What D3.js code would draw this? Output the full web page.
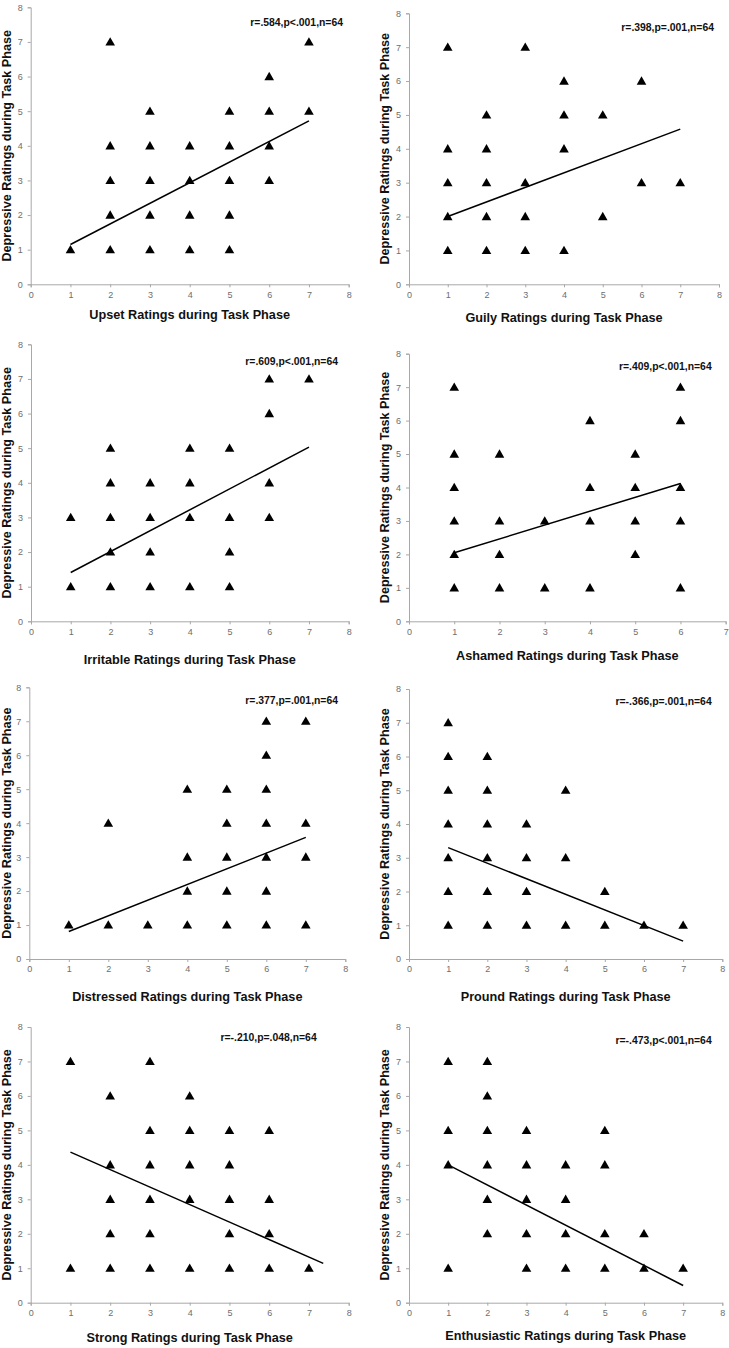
<!DOCTYPE html>
<html>
<head>
<meta charset="utf-8">
<script src="https://cdn.jsdelivr.net/npm/d3@7"></script>
<style>
  html, body { margin: 0; padding: 0; background: #fff; }
  svg { display: block; }
</style>
</head>
<body>
<svg id="chart" width="729" height="1348"></svg>
<script>
// ---------- DATA ----------
const xTitles = [
  "Upset Ratings during Task Phase",
  "Guily Ratings during Task Phase",
  "Irritable Ratings during Task Phase",
  "Ashamed Ratings during Task Phase",
  "Distressed Ratings during Task Phase",
  "Pround Ratings during Task Phase",
  "Strong Ratings during Task Phase",
  "Enthusiastic Ratings during Task Phase"
];
const yTitle = "Depressive Ratings during Task Phase";
const statLabels = [
  "r=.584,p<.001,n=64",
  "r=.398,p=.001,n=64",
  "r=.609,p<.001,n=64",
  "r=.409,p<.001,n=64",
  "r=.377,p=.001,n=64",
  "r=-.366,p=.001,n=64",
  "r=-.210,p=.048,n=64",
  "r=-.473,p<.001,n=64"
];
const xMaxValues = [8, 8, 8, 7, 8, 8, 8, 8];
const yTickValues = [0, 1, 2, 3, 4, 5, 6, 7, 8];

const upsetX = [1, 2,2,2,2,2, 3,3,3,3,3, 4,4,4,4, 5,5,5,5,5, 6,6,6,6, 7,7];
const upsetY = [1, 7,4,3,2,1, 5,4,3,2,1, 4,3,2,1, 5,4,3,2,1, 6,5,4,3, 7,5];

const guilyX = [1,1,1,1,1, 2,2,2,2,2, 3,3,3,3, 4,4,4,4, 5,5, 6,6, 7];
const guilyY = [7,4,3,2,1, 5,4,3,2,1, 7,3,2,1, 6,5,4,1, 5,2, 6,3, 3];

const irritableX = [1,1, 2,2,2,2,2, 3,3,3,3, 4,4,4,4, 5,5,5,5, 6,6,6,6, 7];
const irritableY = [3,1, 5,4,3,2,1, 4,3,2,1, 5,4,3,1, 5,3,2,1, 7,6,4,3, 7];

const ashamedX = [1,1,1,1,1,1, 2,2,2,2, 3,3, 4,4,4,4, 5,5,5,5, 6,6,6,6,6];
const ashamedY = [7,5,4,3,2,1, 5,3,2,1, 3,1, 6,4,3,1, 5,4,3,2, 7,6,4,3,1];

const distressedX = [1, 2,2, 3, 4,4,4,4, 5,5,5,5,5, 6,6,6,6,6,6,6, 7,7,7,7];
const distressedY = [1, 4,1, 1, 5,3,2,1, 5,4,3,2,1, 7,6,5,4,3,2,1, 7,4,3,1];

const proundX = [1,1,1,1,1,1,1, 2,2,2,2,2,2, 3,3,3,3, 4,4,4, 5,5, 6, 7];
const proundY = [7,6,5,4,3,2,1, 6,5,4,3,2,1, 4,3,2,1, 5,3,1, 2,1, 1, 1];

const strongX = [1,1, 2,2,2,2,2, 3,3,3,3,3,3, 4,4,4,4,4, 5,5,5,5,5, 6,6,6,6, 7];
const strongY = [7,1, 6,4,3,2,1, 7,5,4,3,2,1, 6,5,4,3,1, 5,4,3,2,1, 5,3,2,1, 1];

const enthusiasticX = [1,1,1,1, 2,2,2,2,2,2, 3,3,3,3,3, 4,4,4,4, 5,5,5,5, 6,6, 7];
const enthusiasticY = [7,5,4,1, 7,6,5,4,3,2, 5,4,3,2,1, 4,3,2,1, 5,4,2,1, 2,1, 1];

// regression line end points (x1, y1) -> (x2, y2)
const fitX1 = [1, 1, 1, 1, 1, 1, 1, 1];
const fitY1 = [1.15, 2.0, 1.41, 2.05, 0.81, 3.30, 4.37, 4.00];
const fitX2 = [7, 7, 7, 6, 7, 7, 7.36, 7];
const fitY2 = [4.72, 4.58, 5.03, 4.12, 3.58, 0.53, 1.14, 0.50];

const seriesX = [upsetX, guilyX, irritableX, ashamedX, distressedX, proundX, strongX, enthusiasticX];
const seriesY = [upsetY, guilyY, irritableY, ashamedY, distressedY, proundY, strongY, enthusiasticY];

// ---------- LAYOUT ----------
const layout = [
  {left: 30.7, right: 348.7, top: 7.3,   bottom: 284.3,  titleY: 315,    statX: 343,   statY: 22},
  {left: 409,  right: 719,   top: 13.3,  bottom: 284.3,  titleY: 318.3,  statX: 714,   statY: 27},
  {left: 31,   right: 348.7, top: 344.3, bottom: 621.3,  titleY: 659.7,  statX: 338,   statY: 361},
  {left: 409,  right: 725.7, top: 353.7, bottom: 621.3,  titleY: 656.3,  statX: 711.7, statY: 366},
  {left: 29.3, right: 345.3, top: 687.3, bottom: 959,    titleY: 996.7,  statX: 338,   statY: 700.7},
  {left: 409,  right: 722.3, top: 689,   bottom: 959,    titleY: 997.3,  statX: 711.7, statY: 701},
  {left: 30.7, right: 348.7, top: 1027,  bottom: 1302.7, titleY: 1337.7, statX: 316.7, statY: 1037.7},
  {left: 409,  right: 722.3, top: 1027,  bottom: 1302.7, titleY: 1336,   statX: 711.7, statY: 1040}
];

const svg = d3.select("#chart");
const FONT = "'Liberation Sans', Arial, Helvetica, sans-serif";
const axisColor = "#a8a8a8";
const tickTextColor = "#6e6e6e";

layout.forEach((L, i) => {
  const x = d3.scaleLinear().domain([0, xMaxValues[i]]).range([L.left, L.right]);
  const y = d3.scaleLinear().domain([0, 8]).range([L.bottom, L.top]);
  const g = svg.append("g");

  // axes
  const xAxis = d3.axisBottom(x).tickValues(d3.range(0, xMaxValues[i] + 1)).tickSize(3).tickPadding(4).tickFormat(d3.format("d"));
  const yAxis = d3.axisLeft(y).tickValues(yTickValues).tickSize(3).tickPadding(5).tickFormat(d3.format("d"));

  const gx = g.append("g").attr("transform", `translate(0,${L.bottom})`).call(xAxis);
  const gy = g.append("g").attr("transform", `translate(${L.left},0)`).call(yAxis);
  [gx, gy].forEach(a => {
    a.select(".domain").attr("stroke", axisColor).attr("stroke-width", 1);
    a.selectAll(".tick line").attr("stroke", axisColor);
    a.selectAll(".tick text").attr("fill", tickTextColor).style("font-family", FONT).style("font-size", "9px");
  });

  // regression line
  g.append("line")
    .attr("x1", x(fitX1[i])).attr("y1", y(fitY1[i]))
    .attr("x2", x(fitX2[i])).attr("y2", y(fitY2[i]))
    .attr("stroke", "#000").attr("stroke-width", 1.5);

  // points
  const pts = seriesX[i].map((v, k) => [v, seriesY[i][k]]);
  const tri = d3.symbol().type(d3.symbolTriangle).size(40);
  g.selectAll("path.pt").data(pts).join("path")
    .attr("class", "pt")
    .attr("d", tri)
    .attr("transform", d => `translate(${x(d[0])},${y(d[1]) + 0.8})`)
    .attr("fill", "#000");

  // stat label
  g.append("text")
    .attr("x", L.statX).attr("y", L.statY)
    .attr("text-anchor", "end").attr("dominant-baseline", "central")
    .style("font-family", FONT).style("font-weight", "bold").style("font-size", "10.4px")
    .attr("fill", "#111")
    .text(statLabels[i]);

  // x title
  g.append("text")
    .attr("x", (L.left + L.right) / 2).attr("y", L.titleY)
    .attr("text-anchor", "middle").attr("dominant-baseline", "central")
    .style("font-family", FONT).style("font-weight", "bold").style("font-size", "12.7px")
    .attr("fill", "#111")
    .text(xTitles[i]);

  // y title
  const cy = (L.top + L.bottom) / 2;
  const cx = Math.max(L.left - 24, 7);
  g.append("text")
    .attr("transform", `translate(${cx},${cy}) rotate(-90)`)
    .attr("text-anchor", "middle").attr("dominant-baseline", "central")
    .style("font-family", FONT).style("font-weight", "bold").style("font-size", "12.6px")
    .attr("fill", "#111")
    .text(yTitle);
});
</script>
</body>
</html>
